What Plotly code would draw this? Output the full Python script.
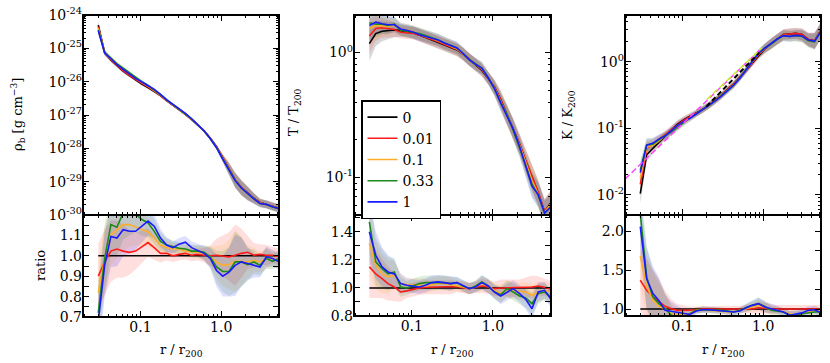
import plotly.graph_objects as go
from plotly.subplots import make_subplots

# radial bins (r / r200)
r = [0.030, 0.036, 0.043, 0.051, 0.061, 0.073, 0.087, 0.104, 0.124, 0.148,
     0.177, 0.211, 0.252, 0.301, 0.360, 0.430, 0.513, 0.613, 0.732, 0.875,
     1.045, 1.248, 1.49, 1.78, 2.13, 2.54, 3.03, 3.62, 4.33, 5.2]

labels = ['0', '0.01', '0.1', '0.33', '1']
colors = ['#000000', '#ff1a1a', '#ffae2a', '#1a8a1a', '#1a1aff']
fills = ['rgba(0,0,0,0.16)', 'rgba(255,0,0,0.13)', 'rgba(255,165,0,0.13)',
         'rgba(0,128,0,0.13)', 'rgba(0,0,255,0.13)']

# reference profiles (model "0")
log_rho_ref = [-24.30, -25.12, -25.35, -25.52, -25.68, -25.82, -25.95, -26.07, -26.18, -26.29,
               -26.42, -26.57, -26.70, -26.83, -26.98, -27.13, -27.30, -27.48, -27.70, -27.95,
               -28.28, -28.60, -28.95, -29.18, -29.35, -29.50, -29.63, -29.68, -29.75, -29.80]
T_ref = [1.18, 1.42, 1.48, 1.50, 1.52, 1.50, 1.48, 1.44, 1.38, 1.32,
         1.27, 1.21, 1.15, 1.10, 1.05, 0.97, 0.88, 0.80, 0.72, 0.62,
         0.53, 0.42, 0.32, 0.245, 0.185, 0.135, 0.100, 0.075, 0.053, 0.063]
K_ref = [0.0105, 0.040, 0.050, 0.062, 0.078, 0.095, 0.115, 0.135, 0.152, 0.168,
         0.19, 0.22, 0.26, 0.31, 0.38, 0.46, 0.58, 0.74, 0.95, 1.25,
         1.55, 1.85, 2.2, 2.55, 2.6, 2.65, 2.55, 2.15, 2.05, 3.0]

# scatter of the profiles (dex)
rho_spread = [0.12, 0.08, 0.07, 0.06, 0.06, 0.05, 0.05, 0.05, 0.05, 0.04,
              0.04, 0.04, 0.04, 0.04, 0.04, 0.04, 0.04, 0.04, 0.05, 0.06,
              0.10, 0.18, 0.22, 0.22, 0.20, 0.15, 0.12, 0.12, 0.12, 0.12]
T_spread = [0.14, 0.10, 0.08, 0.07, 0.06, 0.05, 0.05, 0.05, 0.05, 0.05,
            0.05, 0.05, 0.05, 0.05, 0.05, 0.05, 0.05, 0.05, 0.05, 0.05,
            0.06, 0.07, 0.08, 0.08, 0.08, 0.09, 0.10, 0.10, 0.10, 0.10]
K_spread = [0.15, 0.10, 0.08, 0.07, 0.06, 0.06, 0.06, 0.05, 0.05, 0.05,
            0.05, 0.05, 0.05, 0.05, 0.05, 0.05, 0.05, 0.05, 0.05, 0.06,
            0.07, 0.08, 0.08, 0.08, 0.08, 0.08, 0.09, 0.10, 0.12, 0.12]

# ratios to model "0"
ones = [1.0] * len(r)
rho_ratio_001 = [0.90, 0.97, 1.023, 1.033, 1.023, 1.017, 1.023, 1.045, 1.065, 1.04,
                 1.012, 1.012, 1.0, 1.007, 1.012, 1.003, 1.007, 1.003, 1.0, 1.003,
                 1.0, 0.995, 1.003, 1.012, 1.017, 1.003, 1.007, 1.003, 1.003, 0.995]
rho_ratio_01 = [0.82, 0.987, 1.103, 1.128, 1.153, 1.153, 1.14, 1.128, 1.117, 1.087,
                1.053, 1.04, 1.033, 1.033, 1.023, 1.02, 1.017, 1.012, 0.995, 0.97,
                0.953, 0.957, 0.973, 0.973, 0.97, 0.978, 0.97, 0.987, 0.987, 0.978]
rho_ratio_033 = [0.72, 0.987, 1.153, 1.14, 1.21, 1.21, 1.205, 1.178, 1.162, 1.12,
                 1.07, 1.053, 1.045, 1.037, 1.033, 1.023, 1.023, 1.017, 0.995, 0.945,
                 0.923, 0.923, 0.97, 0.97, 0.957, 0.97, 0.953, 0.987, 0.973, 0.987]
rho_ratio_1 = [0.68, 0.953, 1.095, 1.087, 1.128, 1.12, 1.12, 1.145, 1.17, 1.145,
               1.087, 1.053, 1.04, 1.057, 1.067, 1.04, 1.028, 1.012, 0.987, 0.928,
               0.90, 0.92, 0.953, 0.97, 0.962, 0.953, 0.945, 0.995, 0.987, 0.97]

T_ratio_001 = [1.15, 1.10, 1.067, 1.031, 1.007, 0.971, 0.979, 0.99, 1.0, 1.005,
               1.005, 1.007, 1.007, 1.005, 1.01, 1.0, 0.995, 1.005, 1.014, 1.007,
               0.995, 1.0, 1.0, 1.0, 1.0, 1.005, 1.007, 1.014, 1.005, 0.99]
T_ratio_01 = [1.317, 1.162, 1.10, 1.079, 1.09, 1.031, 1.024, 1.024, 1.019, 1.014,
              1.024, 1.031, 1.031, 1.024, 1.019, 1.007, 0.995, 1.007, 1.031, 1.014,
              0.983, 0.96, 0.99, 0.983, 0.976, 0.971, 0.948, 0.971, 0.983, 0.971]
T_ratio_033 = [1.471, 1.186, 1.138, 1.10, 1.114, 1.007, 1.0, 1.014, 1.031, 1.038,
               1.038, 1.043, 1.038, 1.031, 1.038, 1.014, 0.995, 1.014, 1.043, 1.014,
               0.971, 0.952, 0.995, 0.971, 0.943, 0.929, 0.888, 0.96, 0.971, 0.936]
T_ratio_1 = [1.40, 1.233, 1.15, 1.114, 1.10, 1.031, 1.019, 1.014, 1.007, 1.019,
             1.038, 1.043, 1.038, 1.031, 1.038, 1.014, 0.995, 1.007, 1.038, 1.014,
             0.971, 0.943, 0.971, 0.995, 0.96, 0.919, 0.852, 0.971, 0.983, 0.92]

K_ratio_001 = [1.37, 1.24, 1.155, 1.09, 1.034, 1.004, 0.983, 0.983, 0.983, 0.991,
               1.0, 1.0, 1.0, 1.0, 1.0, 1.0, 1.0, 1.0, 1.0, 1.017,
               1.008, 1.0, 1.0, 1.0, 1.0, 1.0, 1.0, 1.0, 1.0, 1.0]
K_ratio_01 = [1.68, 1.30, 1.11, 1.034, 1.004, 0.94, 0.93, 0.92, 0.94, 0.983,
              0.991, 0.983, 0.974, 0.974, 0.961, 0.961, 0.983, 1.004, 1.026, 1.047,
              1.026, 0.991, 0.983, 0.961, 0.94, 0.92, 0.94, 0.961, 0.983, 0.97]
K_ratio_033 = [2.23, 1.41, 1.155, 1.07, 1.004, 0.92, 0.90, 0.90, 0.94, 0.983,
               0.991, 0.991, 0.983, 0.983, 0.974, 0.961, 0.983, 1.017, 1.047, 1.069,
               1.034, 0.983, 0.974, 0.961, 0.92, 0.92, 0.94, 0.953, 0.961, 0.961]
K_ratio_1 = [2.06, 1.39, 1.20, 1.11, 0.983, 0.97, 0.96, 0.94, 0.93, 0.974,
             0.991, 0.991, 0.983, 0.974, 0.961, 0.961, 0.974, 1.017, 1.047, 1.069,
             1.026, 1.004, 0.991, 0.961, 0.92, 0.933, 0.95, 0.983, 0.991, 0.953]

# scatter of the ratios
rho_ratio_err = [0.16, 0.16, 0.15, 0.14, 0.13, 0.11, 0.09, 0.08, 0.07, 0.06,
                 0.045, 0.035, 0.03, 0.03, 0.03, 0.03, 0.03, 0.035, 0.05, 0.08,
                 0.10, 0.12, 0.15, 0.12, 0.08, 0.06, 0.05, 0.05, 0.04, 0.04]
T_ratio_err = [0.22, 0.17, 0.14, 0.12, 0.10, 0.07, 0.05, 0.05, 0.05, 0.05,
               0.05, 0.05, 0.05, 0.05, 0.04, 0.04, 0.04, 0.04, 0.05, 0.05,
               0.05, 0.06, 0.06, 0.06, 0.06, 0.07, 0.08, 0.07, 0.06, 0.06]
K_ratio_err = [0.40, 0.40, 0.35, 0.30, 0.20, 0.12, 0.08, 0.06, 0.05, 0.04,
               0.04, 0.04, 0.04, 0.04, 0.04, 0.04, 0.04, 0.05, 0.06, 0.08,
               0.07, 0.06, 0.05, 0.05, 0.05, 0.05, 0.05, 0.05, 0.05, 0.05]

# entropy power laws
pl_r = [0.0195, 0.96]
pl_K = [0.0174, 1.6]
fit_r = [0.198, 0.89]
fit_K = [0.212, 1.36]
fit2_r = [0.20, 0.96]
fit2_K = [0.27, 1.6]

rho_ratios = [ones, rho_ratio_001, rho_ratio_01, rho_ratio_033, rho_ratio_1]
T_ratios = [ones, T_ratio_001, T_ratio_01, T_ratio_033, T_ratio_1]
K_ratios = [ones, K_ratio_001, K_ratio_01, K_ratio_033, K_ratio_1]

rho_ref = [10 ** v for v in log_rho_ref]

FONT = 'DejaVu Serif'
W, H = 830, 363


def px(x):
    return x / W


def py(y):
    return 1 - y / H


fig = make_subplots(rows=2, cols=3)


def add_band(lo, hi, row, col, fc):
    fig.add_trace(go.Scatter(x=r, y=lo, mode='lines', line=dict(width=0),
                             showlegend=False, hoverinfo='skip'), row=row, col=col)
    fig.add_trace(go.Scatter(x=r, y=hi, mode='lines', line=dict(width=0),
                             fill='tonexty', fillcolor=fc,
                             showlegend=False, hoverinfo='skip'), row=row, col=col)


def add_column(col, ref, spread, ratios, rerr, legend=False):
    # top: profiles
    for i in range(5):
        prof = [a * b for a, b in zip(ref, ratios[i])]
        lo = [p / 10 ** s for p, s in zip(prof, spread)]
        hi = [p * 10 ** s for p, s in zip(prof, spread)]
        add_band(lo, hi, 1, col, fills[i])
    for i in range(5):
        prof = [a * b for a, b in zip(ref, ratios[i])]
        fig.add_trace(go.Scatter(x=r, y=prof, mode='lines', name=labels[i],
                                 line=dict(color=colors[i], width=1.6),
                                 showlegend=legend), row=1, col=col)
    # bottom: ratios
    for i in range(1, 5):
        lo = [v - e for v, e in zip(ratios[i], rerr)]
        hi = [v + e for v, e in zip(ratios[i], rerr)]
        add_band(lo, hi, 2, col, fills[i])
    for i in range(5):
        fig.add_trace(go.Scatter(x=r, y=ratios[i], mode='lines',
                                 line=dict(color=colors[i], width=1.6),
                                 showlegend=False), row=2, col=col)


add_column(1, rho_ref, rho_spread, rho_ratios, rho_ratio_err)
add_column(2, T_ref, T_spread, T_ratios, T_ratio_err, legend=True)
add_column(3, K_ref, K_spread, K_ratios, K_ratio_err)

fig.add_trace(go.Scatter(x=fit_r, y=fit_K, mode='lines', showlegend=False,
                         line=dict(color='black', width=2, dash='5px,3px')), row=1, col=3)
fig.add_trace(go.Scatter(x=pl_r, y=pl_K, mode='lines', showlegend=False,
                         line=dict(color='#ff44ff', width=1.5, dash='6px,3px')), row=1, col=3)
fig.add_trace(go.Scatter(x=fit2_r, y=fit2_K, mode='lines', showlegend=False,
                         line=dict(color='#c8ee2a', width=1.5, dash='6px,3px')), row=1, col=3)

# layout geometry (reference pixels)
xdom = [[px(83), px(279)], [px(354), px(551)], [px(625), px(821)]]
top_dom = [py(215), py(15)]
bot_dom = [[py(317), py(215)], [py(316), py(215)], [py(316), py(215)]]

minor_r = [m * 10 ** e for e in (-2, -1, 0) for m in range(2, 10)]
xrange_log = [-1.712, 0.716]

common = dict(showline=False, mirror='allticks',
              ticks='inside', ticklen=6, tickwidth=1, tickcolor='black',
              showgrid=False, zeroline=False, automargin=False,
              ticklabeloverflow='allow',
              tickfont=dict(family=FONT, size=14, color='black'))


def exp_labels(exps):
    return ['10<sup>%d</sup>' % e for e in exps]


for c in range(3):
    minor_x = dict(tickvals=minor_r, ticks='inside', ticklen=3, tickcolor='black', showgrid=False)
    fig.update_xaxes(type='log', range=xrange_log, domain=xdom[c], tickvals=[0.1, 1],
                     ticktext=['0.1', '1.0'], showticklabels=False, minor=minor_x,
                     row=1, col=c + 1, **common)
    fig.update_xaxes(type='log', range=xrange_log, domain=xdom[c], tickvals=[0.1, 1],
                     ticktext=['0.1', '1.0'], minor=minor_x,
                     row=2, col=c + 1, **common)

exps1 = list(range(-30, -23))
minor_y1 = [m * 10.0 ** e for e in range(-30, -24) for m in range(2, 10)]
fig.update_yaxes(type='log', range=[-30.002, -23.998], domain=top_dom,
                 tickvals=[10.0 ** e for e in exps1], ticktext=exp_labels(exps1),
                 minor=dict(tickvals=minor_y1, ticks='inside', ticklen=3, tickcolor='black'),
                 row=1, col=1, **common)
minor_y2 = [m * 10.0 ** e for e in (-2, -1, 0) for m in range(2, 10)]
fig.update_yaxes(type='log', range=[-1.301, 0.301], domain=top_dom,
                 tickvals=[0.1, 1], ticktext=exp_labels([-1, 0]),
                 minor=dict(tickvals=minor_y2, ticks='inside', ticklen=3, tickcolor='black'),
                 row=1, col=2, **common)
minor_y3 = [m * 10.0 ** e for e in (-3, -2, -1, 0) for m in range(2, 10)]
fig.update_yaxes(type='log', range=[-2.301, 0.699], domain=top_dom,
                 tickvals=[0.01, 0.1, 1], ticktext=exp_labels([-2, -1, 0]),
                 minor=dict(tickvals=minor_y3, ticks='inside', ticklen=3, tickcolor='black'),
                 row=1, col=3, **common)

fig.update_yaxes(range=[0.7, 1.2], domain=bot_dom[0], tickvals=[0.7, 0.8, 0.9, 1.0, 1.1],
                 tickformat='.1f',
                 minor=dict(dtick=0.05, tick0=0.7, ticks='inside', ticklen=6, tickcolor='black'),
                 row=2, col=1, **common)
fig.update_yaxes(range=[0.8, 1.52], domain=bot_dom[1], tickvals=[0.8, 1.0, 1.2, 1.4],
                 tickformat='.1f',
                 minor=dict(dtick=0.1, tick0=0.8, ticks='inside', ticklen=6, tickcolor='black'),
                 row=2, col=2, **common)
fig.update_yaxes(range=[0.91, 2.21], domain=bot_dom[2], tickvals=[1.0, 1.5, 2.0],
                 tickformat='.1f',
                 minor=dict(dtick=0.25, tick0=1.0, ticks='inside', ticklen=6, tickcolor='black'),
                 row=2, col=3, **common)

# panel frames
for c in range(3):
    for dom in (top_dom, bot_dom[c]):
        fig.add_shape(type='rect', xref='paper', yref='paper',
                      x0=xdom[c][0], x1=xdom[c][1], y0=dom[0], y1=dom[1],
                      line=dict(color='black', width=2), layer='above')

# axis titles
titles = [
    (18, 115, 'ρ<sub>b</sub> [g cm<sup>−3</sup>]', -90),
    (40, 266, 'ratio', -90),
    (294, 112, 'T / T<sub>200</sub>', -90),
    (568, 115, 'K / K<sub>200</sub>', -90),
    (181, 350, 'r / r<sub>200</sub>', 0),
    (452, 350, 'r / r<sub>200</sub>', 0),
    (723, 350, 'r / r<sub>200</sub>', 0),
]
for x0, y0, txt, ang in titles:
    fig.add_annotation(x=px(x0), y=py(y0), xref='paper', yref='paper',
                       text=txt, textangle=ang, showarrow=False,
                       xanchor='center', yanchor='middle',
                       font=dict(family=FONT, size=13, color='black'))

fig.update_layout(
    width=W, height=H,
    margin=dict(l=0, r=0, t=0, b=0),
    paper_bgcolor='white', plot_bgcolor='white',
    showlegend=True,
    legend=dict(x=px(361), y=py(100), xanchor='left', yanchor='top',
                bgcolor='white', bordercolor='black', borderwidth=1.5,
                traceorder='normal',
                font=dict(family=FONT, size=14, color='black'),
                itemwidth=30, tracegroupgap=0),
)

# drop the default page margin so the figure sits at the window corner
fig.write_html("out.html", config={'displayModeBar': False},
               post_script="document.body.style.margin='0';")
